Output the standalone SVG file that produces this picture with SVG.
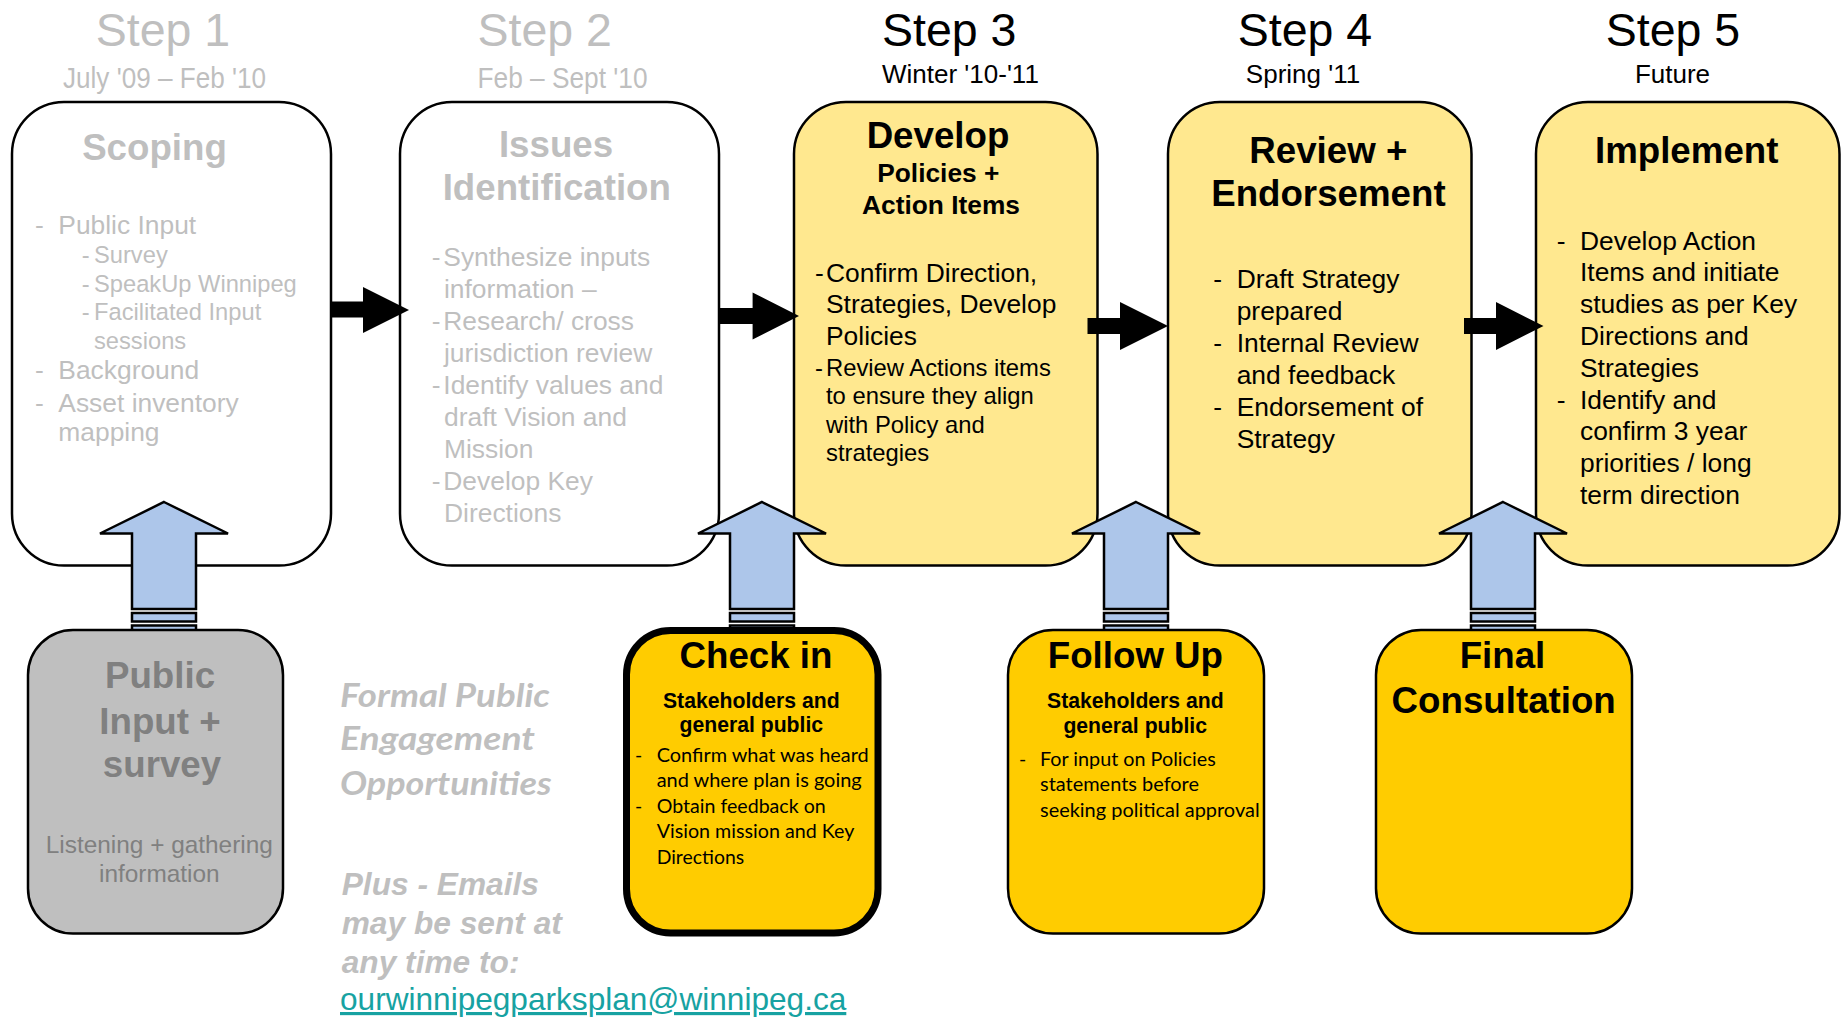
<svg xmlns="http://www.w3.org/2000/svg" width="1843" height="1017" viewBox="0 0 1843 1017">
<style>
text{font-family:"Liberation Sans",Arial,sans-serif}
.cal{font-family:Lato,"Liberation Sans",sans-serif}
.g{fill:#BFBFBF}
.k{fill:#000}
.dg{fill:#808080}
.b{font-weight:bold}
.mid{text-anchor:middle}
.st{font-size:46.5px}
.sub{font-size:26px}
.nar{font-size:29px}
.ttl{font-size:36.7px;font-weight:bold}
.body{font-size:26.4px}
.small{font-size:23.7px}
.box{stroke:#000;stroke-width:2.5}
.white{fill:#fff}
.ly{fill:#FFE88F}
.gold{fill:#FFCC00}
.gray{fill:#BFBFBF}
.blue{fill:#ADC6EA;stroke:#000;stroke-width:2.5;stroke-linejoin:miter}
.blk{fill:#000}
.bul{font-size:19.5px}
.sh{font-size:21.2px;font-weight:bold}
</style>
<rect width="1843" height="1017" fill="#fff"/>

<g id="headers">
  <text class="st g mid" x="163" y="46">Step 1</text>
  <text class="nar g" x="63" y="88" textLength="203" lengthAdjust="spacingAndGlyphs">July '09 – Feb '10</text>
  <text class="st g" x="477.5" y="46">Step 2</text>
  <text class="nar g" x="477.5" y="88" textLength="170" lengthAdjust="spacingAndGlyphs">Feb – Sept '10</text>
  <text class="st k" x="882" y="46">Step 3</text>
  <text class="sub k" x="882" y="83">Winter '10-'11</text>
  <text class="st k mid" x="1305" y="46">Step 4</text>
  <text class="sub k mid" x="1303" y="83">Spring '11</text>
  <text class="st k mid" x="1673" y="46">Step 5</text>
  <text class="sub k mid" x="1672.5" y="83">Future</text>
</g>

<g id="scoping">
  <rect class="box white" x="12" y="102" width="319" height="463.5" rx="52" ry="52"/>
  <text class="ttl g mid" x="154.5" y="160">Scoping</text>
  <text class="body g" x="35" y="233.5">-</text>
  <text class="body g" x="58.3" y="233.5">Public Input</text>
  <text class="small g" x="81.7" y="262.5">-</text>
  <text class="small g" x="94" y="262.5">Survey</text>
  <text class="small g" x="81.7" y="291.5">-</text>
  <text class="small g" x="94" y="291.5">SpeakUp Winnipeg</text>
  <text class="small g" x="81.7" y="320">-</text>
  <text class="small g" x="94" y="320">Facilitated Input</text>
  <text class="small g" x="94" y="348.5">sessions</text>
  <text class="body g" x="35" y="378.5">-</text>
  <text class="body g" x="58.3" y="378.5">Background</text>
  <text class="body g" x="35" y="411.5">-</text>
  <text class="body g" x="58.3" y="411.5">Asset inventory</text>
  <text class="body g" x="58.3" y="441">mapping</text>
</g>

<g id="issues">
  <rect class="box white" x="400" y="102" width="319" height="463.5" rx="52" ry="52"/>
  <text class="ttl g mid" x="556" y="157">Issues</text>
  <text class="ttl g mid" x="556.8" y="200">Identification</text>
  <text class="body g" x="431.7" y="266">-</text>
  <text class="body g" x="443.3" y="266">Synthesize inputs</text>
  <text class="body g" x="444" y="298">information –</text>
  <text class="body g" x="431.7" y="330">-</text>
  <text class="body g" x="443.3" y="330">Research/ cross</text>
  <text class="body g" x="444" y="362">jurisdiction review</text>
  <text class="body g" x="431.7" y="394">-</text>
  <text class="body g" x="443.3" y="394">Identify values and</text>
  <text class="body g" x="444" y="426">draft Vision and</text>
  <text class="body g" x="444" y="458">Mission</text>
  <text class="body g" x="431.7" y="490">-</text>
  <text class="body g" x="443.3" y="490">Develop Key</text>
  <text class="body g" x="444" y="522">Directions</text>
</g>

<g id="develop">
  <rect class="box ly" x="794" y="102" width="303.5" height="463.5" rx="52" ry="52"/>
  <text class="ttl k mid" x="938" y="148">Develop</text>
  <text class="k mid b" x="938.3" y="182" font-size="26.3">Policies +</text>
  <text class="k mid b" x="941" y="213.5" font-size="26.3">Action Items</text>
  <text class="body k" x="815" y="281.7">-</text>
  <text class="body k" x="826" y="281.7">Confirm Direction,</text>
  <text class="body k" x="826" y="313.4">Strategies, Develop</text>
  <text class="body k" x="826" y="345">Policies</text>
  <text class="k" x="815" y="375.5" font-size="23.8">-</text>
  <text class="k" x="826" y="375.5" font-size="23.8">Review Actions items</text>
  <text class="k" x="826" y="404" font-size="23.8">to ensure they align</text>
  <text class="k" x="826" y="432.5" font-size="23.8">with Policy and</text>
  <text class="k" x="826" y="461" font-size="23.8">strategies</text>
</g>

<g id="review">
  <rect class="box ly" x="1168" y="102" width="303.5" height="463.5" rx="52" ry="52"/>
  <text class="ttl k mid" x="1328.3" y="162.7">Review +</text>
  <text class="ttl k mid" x="1328.4" y="206">Endorsement</text>
  <text class="body k" x="1213.3" y="287.5">-</text>
  <text class="body k" x="1236.7" y="287.5">Draft Strategy</text>
  <text class="body k" x="1236.7" y="319.5">prepared</text>
  <text class="body k" x="1213.3" y="351.5">-</text>
  <text class="body k" x="1236.7" y="351.5">Internal Review</text>
  <text class="body k" x="1236.7" y="383.5">and feedback</text>
  <text class="body k" x="1213.3" y="415.5">-</text>
  <text class="body k" x="1236.7" y="415.5">Endorsement of</text>
  <text class="body k" x="1236.7" y="447.5">Strategy</text>
</g>

<g id="implement">
  <rect class="box ly" x="1536" y="102" width="303.5" height="463.5" rx="52" ry="52"/>
  <text class="ttl k mid" x="1686.7" y="163.3">Implement</text>
  <text class="body k" x="1556.7" y="249.5">-</text>
  <text class="body k" x="1580" y="249.5">Develop Action</text>
  <text class="body k" x="1580" y="281.3">Items and initiate</text>
  <text class="body k" x="1580" y="313.1">studies as per Key</text>
  <text class="body k" x="1580" y="344.9">Directions and</text>
  <text class="body k" x="1580" y="376.7">Strategies</text>
  <text class="body k" x="1556.7" y="408.5">-</text>
  <text class="body k" x="1580" y="408.5">Identify and</text>
  <text class="body k" x="1580" y="440.3">confirm 3 year</text>
  <text class="body k" x="1580" y="472.1">priorities / long</text>
  <text class="body k" x="1580" y="503.9">term direction</text>
</g>

<g id="connectors">
  <polygon class="blk" points="331,301.5 363,301.5 363,287 409,310 363,333 363,317.5 331,317.5"/>
  <polygon class="blk" points="719,308 752.6,308 752.6,292.5 799,316 752.6,339.5 752.6,324 719,324"/>
  <polygon class="blk" points="1087.5,318 1120,318 1120,302 1168,326 1120,350 1120,334 1087.5,334"/>
  <polygon class="blk" points="1464,318 1496,318 1496,302 1543.5,326 1496,350 1496,334 1464,334"/>
  <g id="up1">
    <polygon class="blue" points="164,502 228,533.5 196,533.5 196,609 132,609 132,533.5 100,533.5"/>
    <rect class="blue" x="132" y="613" width="64" height="8.5"/>
    <rect class="blue" x="132" y="625.5" width="64" height="10"/>
  </g>
  <g id="up2">
    <polygon class="blue" points="762,502 826,533.5 794,533.5 794,609 730,609 730,533.5 698,533.5"/>
    <rect class="blue" x="730" y="613" width="64" height="8.5"/>
    <rect class="blue" x="730" y="625.5" width="64" height="10"/>
  </g>
  <g id="up3">
    <polygon class="blue" points="1136,502 1200,533.5 1168,533.5 1168,609 1104,609 1104,533.5 1072,533.5"/>
    <rect class="blue" x="1104" y="613" width="64" height="8.5"/>
    <rect class="blue" x="1104" y="625.5" width="64" height="10"/>
  </g>
  <g id="up4">
    <polygon class="blue" points="1503,502 1567,533.5 1535,533.5 1535,609 1471,609 1471,533.5 1439,533.5"/>
    <rect class="blue" x="1471" y="613" width="64" height="8.5"/>
    <rect class="blue" x="1471" y="625.5" width="64" height="10"/>
  </g>
</g>

<g id="public-input">
  <rect class="box gray" x="28" y="630" width="255" height="303.5" rx="45" ry="45"/>
  <text class="ttl dg mid" x="160" y="688">Public</text>
  <text class="ttl dg mid" x="160" y="733.5">Input +</text>
  <text class="ttl dg mid" x="162" y="776.5">survey</text>
  <text class="dg mid" x="159.3" y="853.3" font-size="24.4">Listening + gathering</text>
  <text class="dg mid" x="159.3" y="882.4" font-size="24.4">information</text>
</g>

<g id="check-in">
  <rect class="gold" x="626.5" y="630.5" width="251.5" height="302.5" rx="44" ry="44" stroke="#000" stroke-width="7"/>
  <text class="ttl k mid" x="756" y="668">Check in</text>
  <text class="sh k mid" x="751.3" y="707.5">Stakeholders and</text>
  <text class="sh k mid" x="751.3" y="732">general public</text>
  <text class="cal bul k" x="635" y="761.7">-</text>
  <text class="cal bul k" x="656.7" y="761.7" textLength="212" lengthAdjust="spacingAndGlyphs">Confirm what was heard</text>
  <text class="cal bul k" x="656.7" y="787.2" textLength="205" lengthAdjust="spacingAndGlyphs">and where plan is going</text>
  <text class="cal bul k" x="635" y="812.7">-</text>
  <text class="cal bul k" x="656.7" y="812.7" textLength="169" lengthAdjust="spacingAndGlyphs">Obtain feedback on</text>
  <text class="cal bul k" x="656.7" y="838.2" textLength="197.6" lengthAdjust="spacingAndGlyphs">Vision mission and Key</text>
  <text class="cal bul k" x="656.7" y="863.7" textLength="87.4" lengthAdjust="spacingAndGlyphs">Directions</text>
</g>

<g id="follow-up">
  <rect class="box gold" x="1008" y="630" width="256" height="303.5" rx="45" ry="45"/>
  <text class="ttl k mid" x="1135.4" y="668">Follow Up</text>
  <text class="sh k mid" x="1135.4" y="707.5">Stakeholders and</text>
  <text class="sh k mid" x="1135.2" y="732.5">general public</text>
  <text class="cal bul k" x="1019" y="766">-</text>
  <text class="cal bul k" x="1040" y="766" textLength="175.7" lengthAdjust="spacingAndGlyphs">For input on Policies</text>
  <text class="cal bul k" x="1040" y="791.3" textLength="159" lengthAdjust="spacingAndGlyphs">statements before</text>
  <text class="cal bul k" x="1040" y="816.6" textLength="219.6" lengthAdjust="spacingAndGlyphs">seeking political approval</text>
</g>

<g id="final-consultation">
  <rect class="box gold" x="1376" y="630" width="256" height="303.5" rx="45" ry="45"/>
  <text class="ttl k mid" x="1502.5" y="668">Final</text>
  <text class="ttl k mid" x="1503.7" y="712.5">Consultation</text>
</g>

<g id="notes">
  <text class="cal g" x="340" y="707" font-size="32" font-weight="bold" font-style="italic" textLength="210" lengthAdjust="spacingAndGlyphs">Formal Public</text>
  <text class="cal g" x="340" y="750" font-size="32" font-weight="bold" font-style="italic" textLength="195" lengthAdjust="spacingAndGlyphs">Engagement</text>
  <text class="cal g" x="340" y="795" font-size="32" font-weight="bold" font-style="italic" textLength="211.7" lengthAdjust="spacingAndGlyphs">Opportunities</text>
  <text class="g b" x="341.7" y="895" font-size="31.7" font-style="italic">Plus - Emails</text>
  <text class="g b" x="341.7" y="933.5" font-size="31.7" font-style="italic">may be sent at</text>
  <text class="g b" x="341.7" y="972.5" font-size="31.7" font-style="italic">any time to:</text>
  <text x="340" y="1010" font-size="31.6" fill="#17A2A2" text-decoration="underline">ourwinnipegparksplan@winnipeg.ca</text>
</g>
</svg>
